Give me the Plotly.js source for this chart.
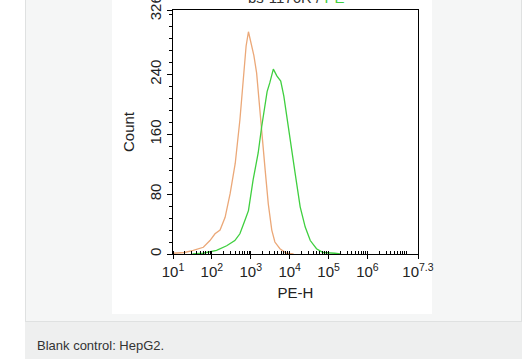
<!DOCTYPE html>
<html>
<head>
<meta charset="utf-8">
<script src="https://cdn.plot.ly/plotly-3.0.1.min.js"></script>
<style>
  html, body { margin: 0; padding: 0; background: #ffffff; width: 525px; height: 359px; overflow: hidden; }
  #panel { position: absolute; left: 25px; top: -1px; width: 495px; height: 321px; background: #f5f6f6; border: 1px solid #dfe1e1; }
  #caption { position: absolute; left: 25px; top: 322px; width: 497px; height: 37px; background: #eeefef; font-family: "Liberation Sans", Arial, sans-serif; font-size: 13px; color: #333333; }
  #caption span { position: absolute; left: 12px; top: 16px; }
  #imgbg { position: absolute; left: 112px; top: 0px; width: 320px; height: 314px; background: #ffffff; }
  #chart { position: absolute; left: 112px; top: 0px; width: 340px; height: 314px; }
</style>
</head>
<body>
<div id="panel"></div>
<div id="caption"><span>Blank control: HepG2.</span></div>
<div id="imgbg"></div>
<div id="chart"></div>
<script>
// Blank control histogram (orange): log10(PE-H) exponents and counts
const blankExp   = [1.00, 1.30, 1.52, 1.78, 1.95, 2.08, 2.21, 2.34, 2.47, 2.60, 2.72, 2.81, 2.88, 2.94, 3.00, 3.08, 3.15, 3.24, 3.28, 3.37, 3.45, 3.54, 3.62, 3.75, 3.92, 4.10];
const blankCount = [1, 2, 5, 9, 18, 27, 32, 49, 81, 121, 179, 233, 278, 297, 282, 265, 242, 188, 157, 112, 67, 32, 16, 7, 1, 0];
// Stained sample histogram (green)
const stainExp   = [1.50, 1.77, 2.12, 2.38, 2.59, 2.72, 2.85, 2.94, 3.06, 3.19, 3.28, 3.37, 3.42, 3.49, 3.58, 3.67, 3.77, 3.85, 3.96, 4.05, 4.14, 4.27, 4.40, 4.53, 4.69, 4.86, 5.04, 5.16, 5.30];
const stainCount = [0, 1, 5, 11, 18, 27, 45, 58, 99, 135, 170, 197, 217, 229, 247, 238, 231, 211, 170, 139, 108, 63, 36, 18, 7, 2, 2, 1, 0];
// Axis ticks
const xTickExp   = [1, 2, 3, 4, 5, 6, 7.3];
const xTickText  = ["10<sup>1</sup>", "10<sup>2</sup>", "10<sup>3</sup>", "10<sup>4</sup>", "10<sup>5</sup>", "10<sup>6</sup>", "10<sup>7.3</sup>"];
const yTickVals  = [0, 80, 160, 240, 326];

const pow10 = a => a.map(e => Math.pow(10, e));
const font = { family: "Liberation Sans, Arial, sans-serif", size: 15, color: "#222222" };

const traces = [
  { x: pow10(blankExp), y: blankCount, type: "scatter", mode: "lines",
    line: { color: "#eba878", width: 1.3 }, hoverinfo: "skip" },
  { x: pow10(stainExp), y: stainCount, type: "scatter", mode: "lines",
    line: { color: "#3fcf3f", width: 1.3 }, hoverinfo: "skip" }
];

const layout = {
  width: 340, height: 314,
  margin: { l: 61, r: 34, t: 10, b: 60 },
  paper_bgcolor: "rgba(0,0,0,0)", plot_bgcolor: "#ffffff",
  showlegend: false,
  font: font,
  xaxis: {
    type: "log", range: [0.9999, 7.3001],
    tickmode: "array", tickvals: pow10(xTickExp), ticktext: xTickText,
    ticks: "outside", ticklen: 4, tickcolor: "#000", tickfont: font, tickangle: 0,
    ticklabeloverflow: "allow",
    showline: true, linecolor: "#000", linewidth: 1, mirror: true,
    showgrid: false, zeroline: false,
    minor: { dtick: "D1", ticks: "inside", ticklen: 3, tickcolor: "#000", showgrid: false },
    title: { text: "PE-H", font: font, standoff: 8 }
  },
  yaxis: {
    range: [0, 326.05],
    tickmode: "array", tickvals: yTickVals,
    ticks: "outside", ticklen: 5, tickcolor: "#000", tickfont: font, tickangle: -90,
    ticklabeloverflow: "allow",
    showline: true, linecolor: "#000", linewidth: 1, mirror: true,
    showgrid: false, zeroline: false,
    minor: { dtick: 16, tick0: 0, ticks: "outside", ticklen: 3, tickcolor: "#000", showgrid: false },
    title: { text: "Count", font: font, standoff: 8 }
  },
  annotations: [{
    xref: "paper", yref: "paper", x: 0.5, y: 1, yanchor: "bottom", yshift: 2,
    showarrow: false, font: { family: font.family, size: 15, color: "#333333" },
    text: "bs-1176R / <span style='color:#3fcf3f'>PE</span>"
  }]
};

Plotly.newPlot("chart", traces, layout, { displayModeBar: false, staticPlot: true });
</script>
</body>
</html>
